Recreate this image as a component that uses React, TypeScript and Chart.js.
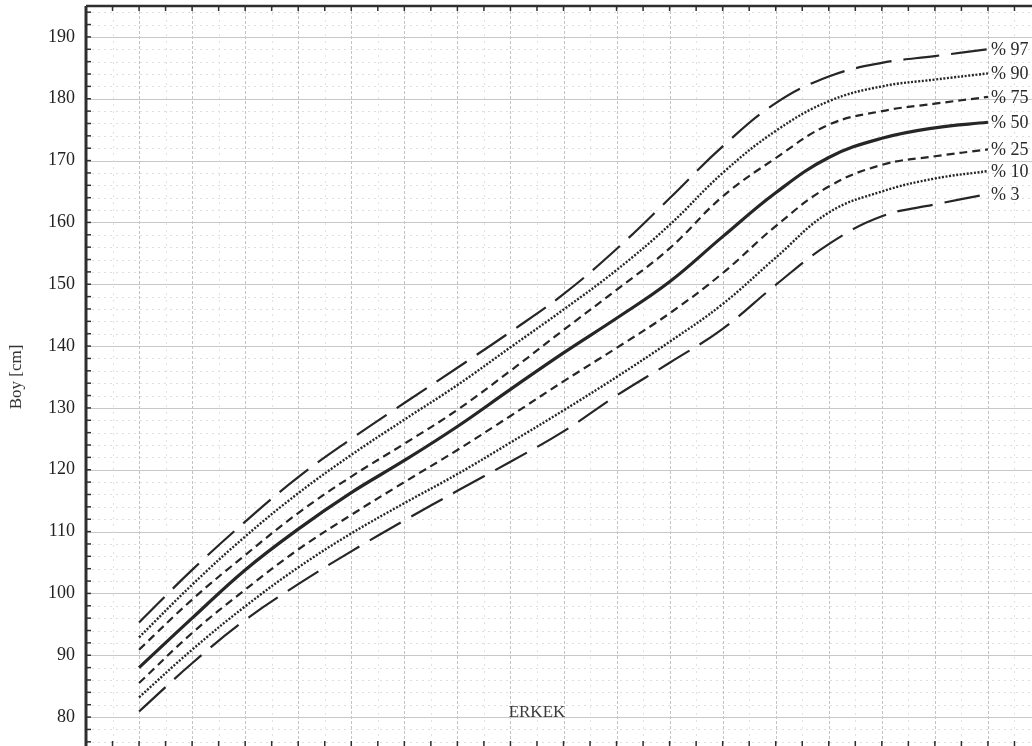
import React, { useEffect, useRef } from "react";
import { Chart, registerables } from "chart.js";

Chart.register(...registerables);

const ages = [2, 3, 4, 5, 6, 7, 8, 9, 10, 11, 12, 13, 14, 15, 16, 17, 18];

const p97 = [95.3, 103.8, 111.6, 118.8, 125.0, 130.8, 136.5, 142.3, 148.4, 155.7, 163.9, 172.3, 179.3, 183.6, 185.8, 186.9, 188.0];
const p90 = [92.9, 101.4, 109.2, 116.2, 122.4, 128.1, 133.7, 139.8, 145.9, 152.3, 159.6, 168.0, 174.8, 179.6, 182.0, 183.1, 184.1];
const p75 = [90.9, 99.0, 106.2, 113.0, 118.9, 124.2, 129.7, 136.0, 142.6, 149.1, 155.8, 164.2, 170.4, 175.8, 178.0, 179.2, 180.3];
const p50 = [88.0, 96.0, 103.8, 110.4, 116.3, 121.5, 127.0, 133.0, 138.9, 144.5, 150.4, 157.7, 164.8, 170.5, 173.6, 175.3, 176.2];
const p25 = [85.5, 93.6, 100.6, 107.1, 112.7, 118.0, 123.2, 128.7, 134.3, 139.7, 145.3, 151.8, 159.4, 165.8, 169.3, 170.7, 171.8];
const p10 = [83.2, 90.9, 97.9, 104.2, 109.7, 114.6, 119.3, 124.4, 129.6, 135.0, 140.7, 146.8, 154.3, 161.6, 165.0, 167.1, 168.3];
const p3 = [80.9, 88.7, 95.7, 101.5, 106.8, 111.8, 116.6, 121.3, 126.2, 132.0, 137.3, 142.8, 149.9, 156.5, 161.0, 162.9, 164.6];

const seriesLabels = ["% 97", "% 90", "% 75", "% 50", "% 25", "% 10", "% 3"];
const yTickLabels = [80, 90, 100, 110, 120, 130, 140, 150, 160, 170, 180, 190];
const yAxisTitle = "Boy [cm]";
const chartNote = "ERKEK";
const notePos = { age: 9.5, cm: 80.8 };

const FONT = '"Liberation Serif", "Times New Roman", serif';
const INK = "#262626";

const gridPlugin = {
  id: "paperGrid",
  beforeDatasetsDraw(chart: any) {
    const { ctx, chartArea: a, scales } = chart;
    const xs = scales.x;
    const ys = scales.y;
    ctx.save();
    for (let v = 76; v <= 194; v += 2) {
      const y = Math.round(ys.getPixelForValue(v)) + 0.5;
      ctx.beginPath();
      if (v % 10 === 0) {
        ctx.setLineDash([]);
        ctx.strokeStyle = "#c8c8c8";
      } else {
        ctx.setLineDash([2, 4]);
        ctx.strokeStyle = "#dedede";
      }
      ctx.lineWidth = 1;
      ctx.moveTo(a.left, y);
      ctx.lineTo(a.right, y);
      ctx.stroke();
    }
    for (let t = 1.5; t <= 19; t += 0.5) {
      const x = Math.round(xs.getPixelForValue(t)) + 0.5;
      ctx.beginPath();
      if (Number.isInteger(t)) {
        ctx.setLineDash([3, 2]);
        ctx.strokeStyle = "#c4c4c4";
      } else {
        ctx.setLineDash([2, 5]);
        ctx.strokeStyle = "#e2e2e2";
      }
      ctx.lineWidth = 1;
      ctx.moveTo(x, a.top);
      ctx.lineTo(x, a.bottom);
      ctx.stroke();
    }
    ctx.restore();
  },
  afterDatasetsDraw(chart: any) {
    const { ctx, chartArea: a, scales } = chart;
    const xs = scales.x;
    const ys = scales.y;
    ctx.save();
    ctx.setLineDash([]);
    ctx.strokeStyle = "#2e2e2e";
    ctx.lineWidth = 2.5;
    ctx.beginPath();
    ctx.moveTo(a.left, a.top);
    ctx.lineTo(a.right, a.top);
    ctx.stroke();
    ctx.lineWidth = 3;
    ctx.beginPath();
    ctx.moveTo(a.left, a.top);
    ctx.lineTo(a.left, a.bottom);
    ctx.stroke();
    ctx.lineWidth = 2;
    ctx.beginPath();
    ctx.moveTo(a.left, a.bottom);
    ctx.lineTo(a.right, a.bottom);
    ctx.stroke();
    ctx.lineWidth = 1.5;
    for (let t = 1.5; t <= 19; t += 0.5) {
      const x = xs.getPixelForValue(t);
      ctx.beginPath();
      ctx.moveTo(x, a.top);
      ctx.lineTo(x, a.top + 5);
      ctx.moveTo(x, a.bottom);
      ctx.lineTo(x, a.bottom - 7);
      ctx.stroke();
    }
    for (let v = 76; v <= 194; v += 2) {
      const y = ys.getPixelForValue(v);
      ctx.beginPath();
      ctx.moveTo(a.left, y);
      ctx.lineTo(a.left + 5, y);
      ctx.stroke();
    }
    const all = [p97, p90, p75, p50, p25, p10, p3];
    ctx.fillStyle = "#2a2a2a";
    ctx.font = `18px ${FONT}`;
    ctx.textAlign = "left";
    ctx.textBaseline = "middle";
    const lastAge = ages[ages.length - 1];
    all.forEach((s, i) => {
      const x = xs.getPixelForValue(lastAge) + 3;
      const y = ys.getPixelForValue(s[s.length - 1]) + 1;
      ctx.fillText(seriesLabels[i], x, y);
    });
    ctx.font = `17px ${FONT}`;
    ctx.fillStyle = "#3a3a3a";
    ctx.textAlign = "center";
    ctx.fillText(chartNote, xs.getPixelForValue(notePos.age), ys.getPixelForValue(notePos.cm));
    ctx.restore();
  },
};

function mk(label: string, values: number[], dash: number[], width: number) {
  return {
    label,
    data: ages.map((a, i) => ({ x: a, y: values[i] })),
    borderColor: INK,
    borderWidth: width,
    borderDash: dash,
    pointRadius: 0,
    fill: false,
    tension: 0.4,
  };
}

export default function App() {
  const ref = useRef<HTMLCanvasElement | null>(null);
  useEffect(() => {
    if (!ref.current) return;
    const chart = new Chart(ref.current, {
      type: "line",
      data: {
        datasets: [
          mk(seriesLabels[0], p97, [36, 12], 2.2),
          mk(seriesLabels[1], p90, [2, 1.6], 2.4),
          mk(seriesLabels[2], p75, [8, 5], 2.2),
          mk(seriesLabels[3], p50, [], 3.2),
          mk(seriesLabels[4], p25, [8, 5], 2.2),
          mk(seriesLabels[5], p10, [2, 1.6], 2.4),
          mk(seriesLabels[6], p3, [36, 12], 2.2),
        ],
      },
      options: {
        animation: false,
        responsive: false,
        events: [],
        layout: { padding: { top: 6, right: 5, left: 0, bottom: 0 } },
        plugins: { legend: { display: false }, tooltip: { enabled: false } },
        scales: {
          x: {
            type: "linear",
            min: 1,
            max: 19,
            grid: { display: false },
            border: { display: false },
            ticks: { display: false },
            afterFit: (s: any) => {
              s.height = 30;
              s.paddingLeft = 0;
              s.paddingRight = 0;
            },
          },
          y: {
            type: "linear",
            min: 75,
            max: 195,
            grid: { display: false, drawTicks: false },
            border: { display: false },
            afterBuildTicks: (s: any) => {
              s.ticks = yTickLabels.map((v) => ({ value: v }));
            },
            afterFit: (s: any) => {
              s.width = 86;
              s.paddingTop = 0;
              s.paddingBottom = 0;
            },
            ticks: {
              padding: 11,
              color: "#222",
              font: { family: FONT, size: 18 },
            },
            title: {
              display: true,
              text: yAxisTitle,
              color: "#333",
              font: { family: FONT, size: 17 },
              padding: { top: 6, bottom: 0 },
            },
          },
        },
      },
      plugins: [gridPlugin],
    });
    return () => chart.destroy();
  }, []);
  return (
    <div
      style={{
        position: "fixed",
        top: 0,
        left: 0,
        width: 1032,
        height: 746,
        overflow: "hidden",
        background: "#fff",
      }}
    >
      <canvas ref={ref} width={1046} height={778} style={{ display: "block" }} />
    </div>
  );
}
